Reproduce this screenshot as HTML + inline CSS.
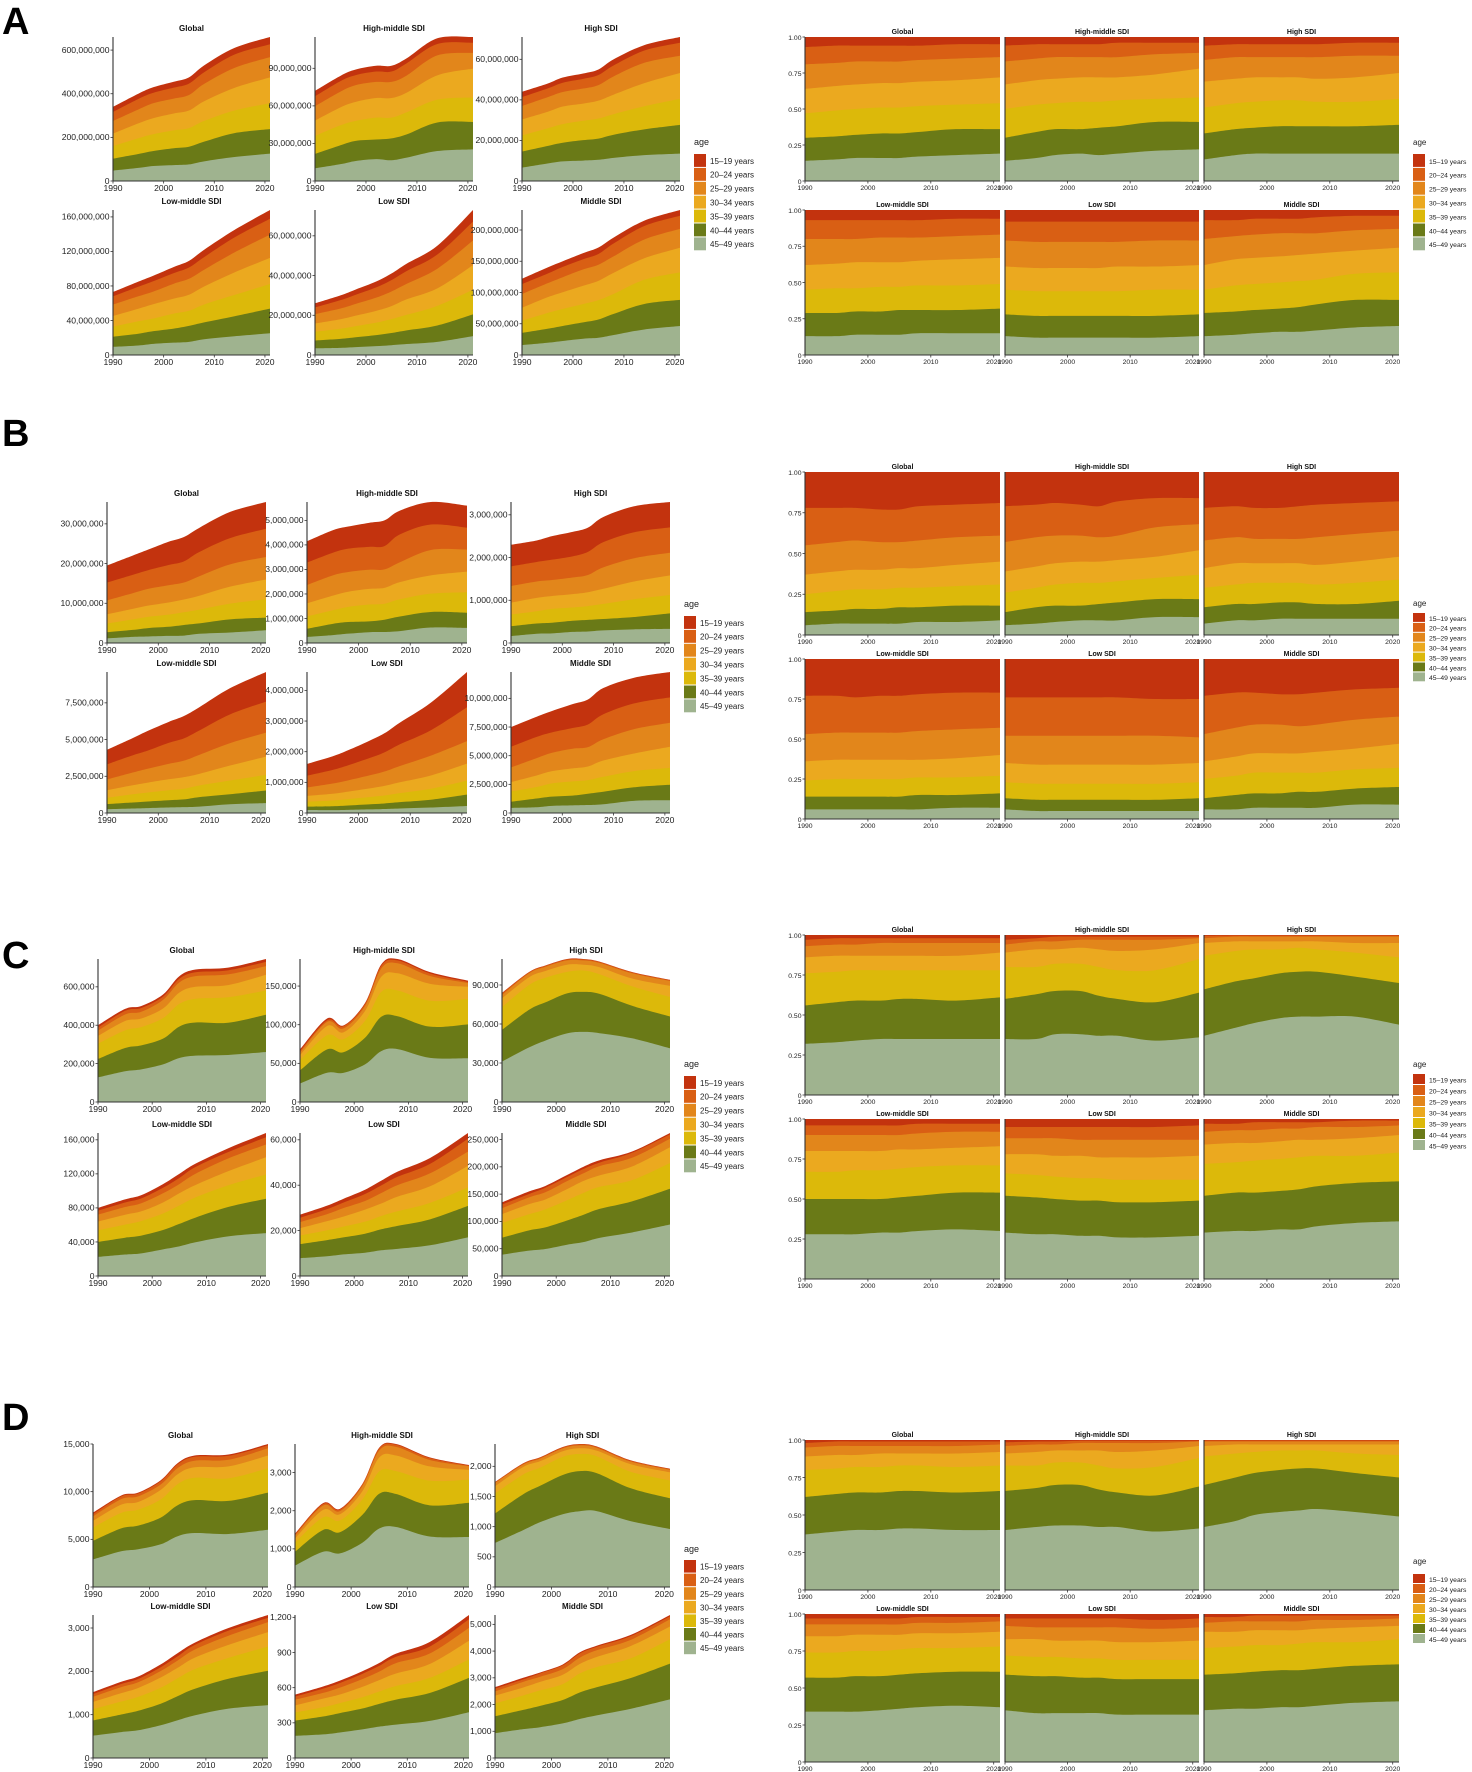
<!DOCTYPE html>
<html><head><meta charset="utf-8"><title>Stacked area by age</title>
<style>
html,body{margin:0;padding:0;background:#fff;}
svg{display:block;font-family:"Liberation Sans",sans-serif;}
</style></head>
<body>
<svg id="fig" width="1472" height="1772" viewBox="0 0 1472 1772" xmlns="http://www.w3.org/2000/svg">
<rect x="0" y="0" width="1472" height="1772" fill="#fff"/>
<text x="2" y="34" font-size="38" font-weight="bold">A</text>
<text x="2" y="446" font-size="38" font-weight="bold">B</text>
<text x="2" y="968" font-size="38" font-weight="bold">C</text>
<text x="2" y="1430" font-size="38" font-weight="bold">D</text>
</svg>
<script>
const YEARS=[1990,1995,1998,2002,2005,2008,2014,2021];
const AGES=['15-19 years','20-24 years','25-29 years','30-34 years','35-39 years','40-44 years','45-49 years'];
const FACETS=['Global','High-middle SDI','High SDI','Low-middle SDI','Low SDI','Middle SDI'];
const PROP_TICKS=[0,0.25,0.5,0.75,1];
const PROP_LABELS=['0','0.25','0.50','0.75','1.00'];
const X_TICKS=[1990,2000,2010,2020];

// ---- Block A (totals) ----
const A_global_tot=[340e6,400e6,430e6,455e6,475e6,530e6,610e6,660e6];
const A_hm_tot=[72e6,84e6,89e6,92e6,92e6,98e6,114e6,115e6];
const A_high_tot=[44e6,48e6,51e6,53e6,55e6,60e6,67e6,71e6];
const A_lm_tot=[73e6,85e6,92e6,102e6,109e6,122e6,145e6,168e6];
const A_low_tot=[26e6,30e6,33e6,37e6,41e6,46e6,55e6,73e6];
const A_mid_tot=[122e6,140e6,150e6,163e6,172e6,188e6,215e6,232e6];
const A_global_shr=[[.14,.15,.16,.16,.16,.17,.18,.19],[.30,.31,.32,.33,.33,.34,.36,.36],[.47,.49,.50,.51,.51,.52,.53,.54],[.64,.66,.67,.68,.68,.69,.70,.72],[.81,.82,.83,.83,.83,.84,.85,.86],[.93,.94,.94,.94,.94,.94,.95,.95]];
const A_hm_shr=[[.14,.16,.18,.19,.18,.19,.21,.22],[.30,.34,.36,.36,.37,.38,.41,.41],[.50,.53,.54,.55,.55,.56,.57,.58],[.67,.70,.71,.72,.72,.72,.74,.78],[.83,.85,.86,.86,.86,.86,.88,.89],[.94,.95,.95,.95,.95,.96,.96,.96]];
const A_high_shr=[[.15,.18,.19,.19,.19,.19,.19,.19],[.33,.36,.37,.38,.38,.38,.38,.39],[.51,.54,.55,.56,.56,.55,.55,.57],[.69,.71,.72,.72,.72,.71,.72,.75],[.84,.86,.86,.86,.86,.86,.87,.87],[.94,.95,.95,.95,.95,.95,.96,.96]];
const A_lm_shr=[[.13,.13,.14,.14,.14,.15,.15,.15],[.29,.29,.30,.30,.31,.31,.31,.32],[.45,.46,.46,.47,.47,.48,.48,.49],[.62,.63,.64,.64,.64,.65,.66,.67],[.80,.80,.80,.81,.81,.81,.82,.83],[.93,.93,.93,.93,.93,.93,.94,.94]];
const A_low_shr=[[.13,.12,.12,.12,.12,.12,.12,.13],[.28,.27,.27,.27,.27,.27,.27,.28],[.45,.44,.44,.44,.44,.44,.45,.45],[.61,.60,.60,.60,.60,.61,.61,.62],[.79,.78,.78,.78,.78,.78,.79,.79],[.92,.92,.92,.92,.92,.92,.92,.92]];
const A_mid_shr=[[.13,.14,.15,.16,.16,.17,.19,.20],[.29,.30,.31,.32,.33,.35,.38,.38],[.45,.48,.49,.50,.51,.52,.56,.57],[.62,.66,.67,.68,.69,.70,.72,.74],[.80,.82,.83,.84,.84,.84,.86,.87],[.93,.93,.94,.94,.94,.95,.96,.96]];
const A_ticks=[[0,2e8,4e8,6e8],[0,3e7,6e7,9e7],[0,2e7,4e7,6e7],[0,4e7,8e7,1.2e8,1.6e8],[0,2e7,4e7,6e7],[0,5e7,1e8,1.5e8,2e8]];

// ---- Block B ----
const B_global_tot=[19.5e6,22e6,23.5e6,25.5e6,26.7e6,29e6,33e6,35.5e6];
const B_hm_tot=[4.15e6,4.6e6,4.75e6,4.9e6,5.0e6,5.4e6,5.75e6,5.6e6];
const B_high_tot=[2.3e6,2.4e6,2.5e6,2.6e6,2.7e6,2.95e6,3.2e6,3.3e6];
const B_lm_tot=[4.3e6,5.1e6,5.6e6,6.2e6,6.6e6,7.2e6,8.5e6,9.6e6];
const B_low_tot=[1.6e6,1.85e6,2.05e6,2.35e6,2.6e6,2.95e6,3.6e6,4.6e6];
const B_mid_tot=[7.5e6,8.4e6,8.9e6,9.5e6,9.9e6,10.9e6,11.8e6,12.3e6];
const B_global_shr=[[.06,.07,.07,.07,.07,.08,.08,.09],[.14,.15,.16,.16,.17,.17,.18,.18],[.25,.27,.28,.28,.29,.29,.30,.31],[.37,.39,.40,.40,.41,.41,.43,.45],[.55,.57,.58,.57,.57,.58,.60,.61],[.78,.78,.78,.77,.77,.79,.80,.81]];
const B_hm_shr=[[.06,.07,.08,.09,.09,.09,.11,.11],[.14,.17,.18,.18,.19,.20,.22,.22],[.26,.29,.31,.32,.32,.33,.35,.37],[.39,.42,.44,.45,.45,.46,.48,.52],[.57,.60,.61,.61,.60,.61,.66,.68],[.79,.80,.81,.80,.79,.82,.84,.84]];
const B_high_shr=[[.07,.09,.09,.10,.10,.10,.10,.10],[.17,.19,.19,.20,.20,.19,.19,.21],[.29,.31,.32,.32,.32,.31,.32,.34],[.41,.44,.44,.44,.44,.43,.45,.48],[.58,.60,.59,.59,.59,.60,.62,.64],[.78,.79,.78,.78,.79,.80,.81,.82]];
const B_lm_shr=[[.06,.06,.06,.06,.06,.06,.07,.07],[.14,.14,.14,.14,.14,.15,.15,.16],[.24,.25,.25,.25,.25,.26,.26,.27],[.36,.37,.37,.37,.37,.37,.38,.40],[.53,.54,.54,.54,.54,.55,.56,.57],[.77,.77,.76,.77,.77,.78,.79,.79]];
const B_low_shr=[[.06,.05,.05,.05,.05,.05,.05,.05],[.13,.12,.12,.12,.12,.12,.12,.13],[.23,.22,.22,.22,.22,.22,.22,.23],[.35,.34,.34,.34,.34,.34,.34,.35],[.52,.52,.52,.52,.52,.52,.52,.51],[.76,.76,.76,.76,.76,.76,.75,.75]];
const B_mid_shr=[[.06,.06,.07,.07,.07,.07,.09,.09],[.13,.15,.16,.16,.17,.17,.19,.20],[.25,.27,.29,.29,.29,.29,.31,.32],[.36,.39,.41,.41,.41,.42,.44,.47],[.53,.57,.59,.59,.58,.59,.62,.64],[.77,.79,.79,.78,.78,.79,.81,.82]];
const B_ticks=[[0,1e7,2e7,3e7],[0,1e6,2e6,3e6,4e6,5e6],[0,1e6,2e6,3e6],[0,2.5e6,5e6,7.5e6],[0,1e6,2e6,3e6,4e6],[0,2.5e6,5e6,7.5e6,1e7]];

// ---- Block C ----
const C_global_tot=[400e3,485e3,500e3,560e3,655e3,690e3,700e3,745e3];
const C_hm_tot=[68e3,108e3,99e3,128e3,178e3,185e3,168e3,157e3];
const C_high_tot=[84e3,100e3,105e3,110e3,110e3,108e3,100e3,94e3];
const C_lm_tot=[80e3,90e3,95e3,108e3,120e3,132e3,150e3,168e3];
const C_low_tot=[27e3,31e3,34e3,38e3,42e3,46e3,52e3,63e3];
const C_mid_tot=[135e3,155e3,165e3,185e3,200e3,212e3,228e3,262e3];
const C_global_shr=[[.32,.33,.34,.35,.35,.35,.35,.35],[.56,.58,.59,.59,.60,.60,.59,.61],[.76,.77,.78,.78,.78,.78,.78,.78],[.86,.87,.87,.87,.87,.87,.87,.89],[.93,.94,.94,.95,.95,.95,.95,.95],[.97,.98,.98,.98,.98,.98,.98,.98]];
const C_hm_shr=[[.35,.35,.38,.38,.37,.37,.34,.36],[.60,.63,.65,.65,.62,.60,.58,.64],[.80,.80,.82,.82,.80,.78,.78,.85],[.89,.91,.91,.92,.91,.90,.91,.95],[.94,.96,.96,.97,.97,.97,.97,.98],[.97,.98,.99,.99,.99,.99,.99,.99]];
const C_high_shr=[[.37,.42,.45,.48,.49,.49,.49,.44],[.66,.71,.73,.76,.77,.77,.74,.70],[.87,.90,.91,.91,.92,.91,.89,.86],[.95,.96,.96,.96,.96,.96,.95,.95],[.98,.99,.99,.99,.99,.99,.99,.99],[.995,.997,.997,.997,.997,.997,.997,.997]];
const C_lm_shr=[[.28,.28,.28,.29,.29,.30,.31,.30],[.50,.50,.50,.50,.51,.52,.54,.54],[.67,.67,.68,.68,.69,.70,.71,.71],[.80,.80,.80,.80,.81,.81,.82,.83],[.90,.90,.90,.90,.90,.91,.92,.92],[.96,.96,.96,.96,.96,.97,.97,.97]];
const C_low_shr=[[.29,.28,.28,.27,.27,.26,.26,.27],[.52,.51,.50,.49,.49,.48,.48,.49],[.66,.65,.64,.63,.63,.62,.62,.62],[.78,.78,.77,.77,.76,.76,.76,.77],[.88,.88,.88,.87,.87,.87,.87,.87],[.95,.95,.95,.95,.95,.95,.95,.96]];
const C_mid_shr=[[.29,.30,.30,.31,.31,.33,.35,.36],[.52,.54,.54,.55,.56,.58,.60,.61],[.72,.73,.74,.75,.76,.77,.77,.79],[.84,.85,.85,.86,.87,.87,.88,.90],[.92,.93,.93,.94,.94,.95,.95,.96],[.97,.97,.98,.98,.98,.98,.99,.99]];
const C_ticks=[[0,2e5,4e5,6e5],[0,5e4,1e5,1.5e5],[0,3e4,6e4,9e4],[0,4e4,8e4,1.2e5,1.6e5],[0,2e4,4e4,6e4],[0,5e4,1e5,1.5e5,2e5,2.5e5]];

// ---- Block D ----
const D_global_tot=[7800,9600,9900,11200,13000,13800,13900,15000];
const D_hm_tot=[1400,2200,2050,2700,3650,3750,3400,3200];
const D_high_tot=[1740,2050,2150,2320,2370,2330,2100,1960];
const D_lm_tot=[1520,1760,1880,2160,2420,2660,3000,3300];
const D_low_tot=[540,610,660,740,810,890,990,1220];
const D_mid_tot=[2650,3000,3200,3500,3950,4200,4600,5350];
const D_global_shr=[[.37,.39,.40,.40,.41,.41,.40,.40],[.62,.64,.65,.65,.66,.66,.65,.66],[.80,.81,.82,.82,.83,.83,.82,.83],[.89,.90,.90,.91,.91,.91,.91,.92],[.95,.96,.96,.96,.96,.96,.96,.97],[.98,.99,.99,.99,.99,.99,.99,.99]];
const D_hm_shr=[[.40,.42,.43,.43,.42,.42,.39,.41],[.66,.68,.70,.70,.67,.65,.63,.69],[.83,.83,.85,.85,.83,.81,.82,.88],[.91,.92,.93,.93,.93,.92,.93,.96],[.96,.97,.97,.98,.98,.98,.98,.99],[.985,.99,.99,.995,.995,.995,.995,.995]];
const D_high_shr=[[.42,.46,.50,.52,.53,.54,.52,.49],[.70,.75,.78,.80,.81,.81,.78,.75],[.89,.91,.92,.93,.93,.93,.91,.90],[.96,.97,.97,.97,.97,.97,.97,.97],[.99,.99,.99,.99,.99,.99,.99,.99],[.997,.997,.997,.997,.997,.997,.997,.997]];
const D_lm_shr=[[.34,.34,.34,.35,.36,.37,.38,.37],[.57,.57,.58,.58,.59,.60,.61,.61],[.74,.74,.75,.75,.76,.77,.77,.78],[.85,.85,.86,.86,.86,.87,.87,.88],[.93,.93,.93,.93,.93,.94,.94,.95],[.97,.97,.97,.97,.97,.98,.98,.98]];
const D_low_shr=[[.35,.33,.33,.33,.33,.32,.32,.32],[.59,.58,.58,.57,.57,.56,.56,.56],[.72,.71,.71,.70,.70,.69,.69,.69],[.83,.83,.82,.82,.82,.81,.81,.82],[.92,.91,.91,.91,.91,.91,.90,.91],[.97,.97,.97,.97,.97,.97,.96,.97]];
const D_mid_shr=[[.35,.36,.36,.37,.37,.38,.40,.41],[.59,.60,.61,.62,.62,.63,.65,.66],[.77,.78,.79,.79,.80,.81,.81,.83],[.88,.88,.89,.89,.89,.90,.91,.92],[.94,.95,.95,.95,.95,.96,.96,.97],[.98,.98,.99,.99,.99,.99,.99,.99]];
const D_ticks=[[0,5000,10000,15000],[0,1000,2000,3000],[0,500,1000,1500,2000],[0,1000,2000,3000],[0,300,600,900,1200],[0,1000,2000,3000,4000,5000]];

const COLORS=['#c3330e','#d95f14','#e2861b','#eba91f','#dcb90a','#6a7a17','#9fb38f'];
const NS='http://www.w3.org/2000/svg';
const svg=document.getElementById('fig');

const BLOCKS=[
 {id:'a',tots:[A_global_tot,A_hm_tot,A_high_tot,A_lm_tot,A_low_tot,A_mid_tot],shrs:[A_global_shr,A_hm_shr,A_high_shr,A_lm_shr,A_low_shr,A_mid_shr],ticks:A_ticks,
  L:{cols:[[113,270],[315,473],[522,680]],rows:[[37,181],[210,355]],leg:[694,145,154,13.9]},
  R:{cols:[[805,1000],[1005,1199],[1204,1399]],rows:[[37,181],[210,355]],leg:[1413,145,154,13.9]}},
 {id:'b',tots:[B_global_tot,B_hm_tot,B_high_tot,B_lm_tot,B_low_tot,B_mid_tot],shrs:[B_global_shr,B_hm_shr,B_high_shr,B_lm_shr,B_low_shr,B_mid_shr],ticks:B_ticks,
  L:{cols:[[107,266],[307,467],[511,670]],rows:[[502,643],[672,813]],leg:[684,607,616,13.9]},
  R:{cols:[[805,1000],[1005,1199],[1204,1399]],rows:[[472,635],[659,819]],leg:[1413,606,613,9.9]}},
 {id:'c',tots:[C_global_tot,C_hm_tot,C_high_tot,C_lm_tot,C_low_tot,C_mid_tot],shrs:[C_global_shr,C_hm_shr,C_high_shr,C_lm_shr,C_low_shr,C_mid_shr],ticks:C_ticks,
  L:{cols:[[98,266],[300,468],[502,670]],rows:[[959,1102],[1133,1276]],leg:[684,1067,1076,13.9]},
  R:{cols:[[805,1000],[1005,1199],[1204,1399]],rows:[[935,1095],[1119,1279]],leg:[1413,1067,1074,11]}},
 {id:'d',tots:[D_global_tot,D_hm_tot,D_high_tot,D_lm_tot,D_low_tot,D_mid_tot],shrs:[D_global_shr,D_hm_shr,D_high_shr,D_lm_shr,D_low_shr,D_mid_shr],ticks:D_ticks,
  L:{cols:[[93,268],[295,469],[495,670]],rows:[[1444,1587],[1615,1758]],leg:[684,1552,1560,13.6]},
  R:{cols:[[805,1000],[1005,1199],[1204,1399]],rows:[[1440,1590],[1614,1762]],leg:[1413,1564,1574,10]}}
];

function el(tag,attrs,parent){const e=document.createElementNS(NS,tag);for(const k in attrs)e.setAttribute(k,attrs[k]);(parent||svg).appendChild(e);return e;}
function curve(pts){
  let d='M'+pts[0][0].toFixed(2)+','+pts[0][1].toFixed(2);
  for(let i=0;i<pts.length-1;i++){
    const p0=pts[Math.max(0,i-1)],p1=pts[i],p2=pts[i+1],p3=pts[Math.min(pts.length-1,i+2)];
    const c1x=p1[0]+(p2[0]-p0[0])/6,c1y=p1[1]+(p2[1]-p0[1])/6;
    const c2x=p2[0]-(p3[0]-p1[0])/6,c2y=p2[1]-(p3[1]-p1[1])/6;
    d+=' C'+c1x.toFixed(2)+','+c1y.toFixed(2)+' '+c2x.toFixed(2)+','+c2y.toFixed(2)+' '+p2[0].toFixed(2)+','+p2[1].toFixed(2);
  }
  return d;
}
function fmt(v){return Math.round(v).toLocaleString('en-US');}

function facet(block,side,fi){
  const geom=side==='L'?block.L:block.R;
  const [x0,x1]=geom.cols[fi%3];
  const [y0,y1]=geom.rows[Math.floor(fi/3)];
  const tot=block.tots[fi], shr=block.shrs[fi];
  const prop=side==='R';
  const ymax=prop?1:Math.max(...tot);
  const xs=y=>x0+(y-1990)/(2021-1990)*(x1-x0);
  const ys=v=>y1-v/ymax*(y1-y0);
  const g=el('g',{});
  
  
  for(let k=0;k<7;k++){
    const pts=YEARS.map((yr,i)=>{
      const c=k===0?1:shr[6-k][i];
      const v=prop?c:tot[i]*c;
      return [xs(yr),ys(v)];
    });
    const d=curve(pts)+' L'+xs(2021).toFixed(2)+','+y1+' L'+xs(1990).toFixed(2)+','+y1+' Z';
    const p=el('path',{d:d,fill:COLORS[k]},g);
    
    
  }
  const ax=el('line',{x1:x0,y1:y0,x2:x0,y2:y1,stroke:'#333','stroke-width':1.1},g);
  
  
  const bx=el('line',{x1:x0,y1:y1,x2:x1,y2:y1,stroke:'#333','stroke-width':1.1},g);
  
  
  const fs=prop?6.8:8.6;
  X_TICKS.forEach(t=>{
    const x=xs(t);
    el('line',{x1:x,y1:y1,x2:x,y2:y1+2.5,stroke:'#333','stroke-width':0.8},g);
    const tx=el('text',{x:x,y:y1+(prop?9:10),'font-size':fs,'text-anchor':'middle',fill:'#222'},g);
    tx.textContent=t;
    
    
  });
  if(!prop||fi%3===0){
    const tk=prop?PROP_TICKS:block.ticks[fi];
    tk.forEach((t,i)=>{
      const y=ys(t);
      el('line',{x1:x0-2.5,y1:y,x2:x0,y2:y,stroke:'#333','stroke-width':0.8},g);
      const tx=el('text',{x:x0-3.5,y:y+2.8,'font-size':fs,'text-anchor':'end',fill:'#222'},g);
      tx.textContent=prop?PROP_LABELS[i]:fmt(t);
      
      
    });
  }
  const tt=el('text',{x:(x0+x1)/2,y:y0-(prop?3:6),'font-size':prop?7:8,'font-weight':'bold','text-anchor':'middle',fill:'#111'},g);
  tt.textContent=FACETS[fi];
  
  
}
function legend(block,side){
  const [x,ay,y0,h]=(side==='L'?block.L:block.R).leg;
  const g=el('g',{});
  
  
  const small=side==='R';
  const t=el('text',{x:x,y:ay,'font-size':small?8:9,fill:'#222'},g);
  t.textContent='age';
  
  
  AGES.forEach((a,i)=>{
    const r=el('rect',{x:x,y:y0+i*h,width:12,height:h-1,fill:COLORS[i]},g);
    
    
    const tx=el('text',{x:x+16,y:y0+i*h+h/2+2.8,'font-size':small?6.8:8,fill:'#222'},g);
    tx.textContent=a.replace('-','\u2013');
    
    
  });
}
BLOCKS.forEach(b=>{
  for(let f=0;f<6;f++){facet(b,'L',f);facet(b,'R',f);}
  legend(b,'L');legend(b,'R');
});
</script>
</body></html>
